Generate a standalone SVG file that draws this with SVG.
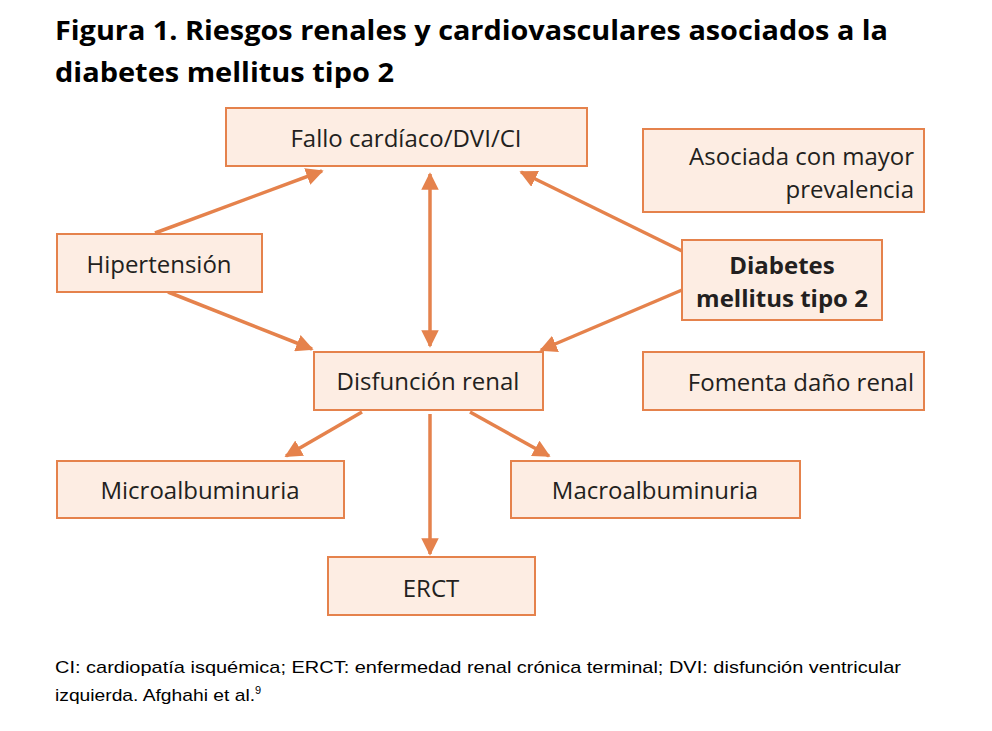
<svg xmlns="http://www.w3.org/2000/svg" width="992" height="731" viewBox="0 0 992 731">
<style>
.box{fill:#fdede3;stroke:#e5824c;stroke-width:2}
.t{font-family:"Open Sans","Noto Sans",sans-serif;font-size:24px;fill:#231f20}
.c{text-anchor:middle}
.r{text-anchor:end}
.b{font-weight:bold}
.title{font-family:"Open Sans","Liberation Sans",sans-serif;font-size:26px;font-weight:bold;fill:#000}
.foot{font-family:"Liberation Sans",sans-serif;font-size:17px;fill:#000}
.ln{stroke:#e5824c;stroke-width:3.5;fill:none}
</style>
<defs>
<marker id="ah" viewBox="0 0 10 10" refX="9" refY="5" markerWidth="5" markerHeight="5" orient="auto-start-reverse" markerUnits="strokeWidth">
<path d="M0,0 L10,5 L0,10 z" fill="#e5824c"/>
</marker>
</defs>
<rect width="992" height="731" fill="#fff"/>
<text class="title" x="55" y="40" textLength="833" lengthAdjust="spacingAndGlyphs">Figura 1. Riesgos renales y cardiovasculares asociados a la</text>
<text class="title" x="55" y="82" textLength="339" lengthAdjust="spacingAndGlyphs">diabetes mellitus tipo 2</text>

<g id="connectors">
<line class="ln" x1="155" y1="233" x2="322" y2="171" marker-end="url(#ah)"/>
<line class="ln" x1="168" y1="292" x2="312" y2="349" marker-end="url(#ah)"/>
<line class="ln" x1="430" y1="174" x2="430" y2="346" marker-start="url(#ah)" marker-end="url(#ah)"/>
<line class="ln" x1="682" y1="251" x2="521" y2="172" marker-end="url(#ah)"/>
<line class="ln" x1="682" y1="290" x2="541" y2="350" marker-end="url(#ah)"/>
<line class="ln" x1="362" y1="412" x2="286" y2="456" marker-end="url(#ah)"/>
<line class="ln" x1="430" y1="414" x2="430" y2="554" marker-end="url(#ah)"/>
<line class="ln" x1="470" y1="412" x2="549" y2="456" marker-end="url(#ah)"/>
</g>

<g id="fallo"><rect class="box" x="226" y="108" width="361" height="58"/><text class="t c" x="406" y="147">Fallo cardíaco/DVI/CI</text></g>
<g id="asociada"><rect class="box" x="643" y="129" width="281" height="83"/><text class="t r" x="914" y="165">Asociada con mayor</text><text class="t r" x="914" y="198">prevalencia</text></g>
<g id="hipertension"><rect class="box" x="57" y="234" width="205" height="58"/><text class="t c" x="159" y="273">Hipertensión</text></g>
<g id="diabetes"><rect class="box" x="682" y="240" width="200" height="80"/><text class="t c b" x="782" y="274">Diabetes</text><text class="t c b" x="782" y="307">mellitus tipo 2</text></g>
<g id="disfuncion"><rect class="box" x="314" y="352" width="229" height="58"/><text class="t c" x="428" y="390">Disfunción renal</text></g>
<g id="fomenta"><rect class="box" x="643" y="352" width="281" height="58"/><text class="t r" x="914" y="391">Fomenta daño renal</text></g>
<g id="micro"><rect class="box" x="57" y="461" width="287" height="57"/><text class="t c" x="200" y="499">Microalbuminuria</text></g>
<g id="macro"><rect class="box" x="511" y="461" width="289" height="57"/><text class="t c" x="655" y="499">Macroalbuminuria</text></g>
<g id="erct"><rect class="box" x="328" y="557" width="207" height="58"/><text class="t c" x="431" y="597">ERCT</text></g>

<text class="foot" x="55" y="673" textLength="846" lengthAdjust="spacingAndGlyphs">CI: cardiopatía isquémica; ERCT: enfermedad renal crónica terminal; DVI: disfunción ventricular</text>
<text class="foot" x="55" y="701"><tspan textLength="200" lengthAdjust="spacingAndGlyphs">izquierda. Afghahi et al.</tspan><tspan font-size="11" dy="-7">9</tspan></text>
</svg>
